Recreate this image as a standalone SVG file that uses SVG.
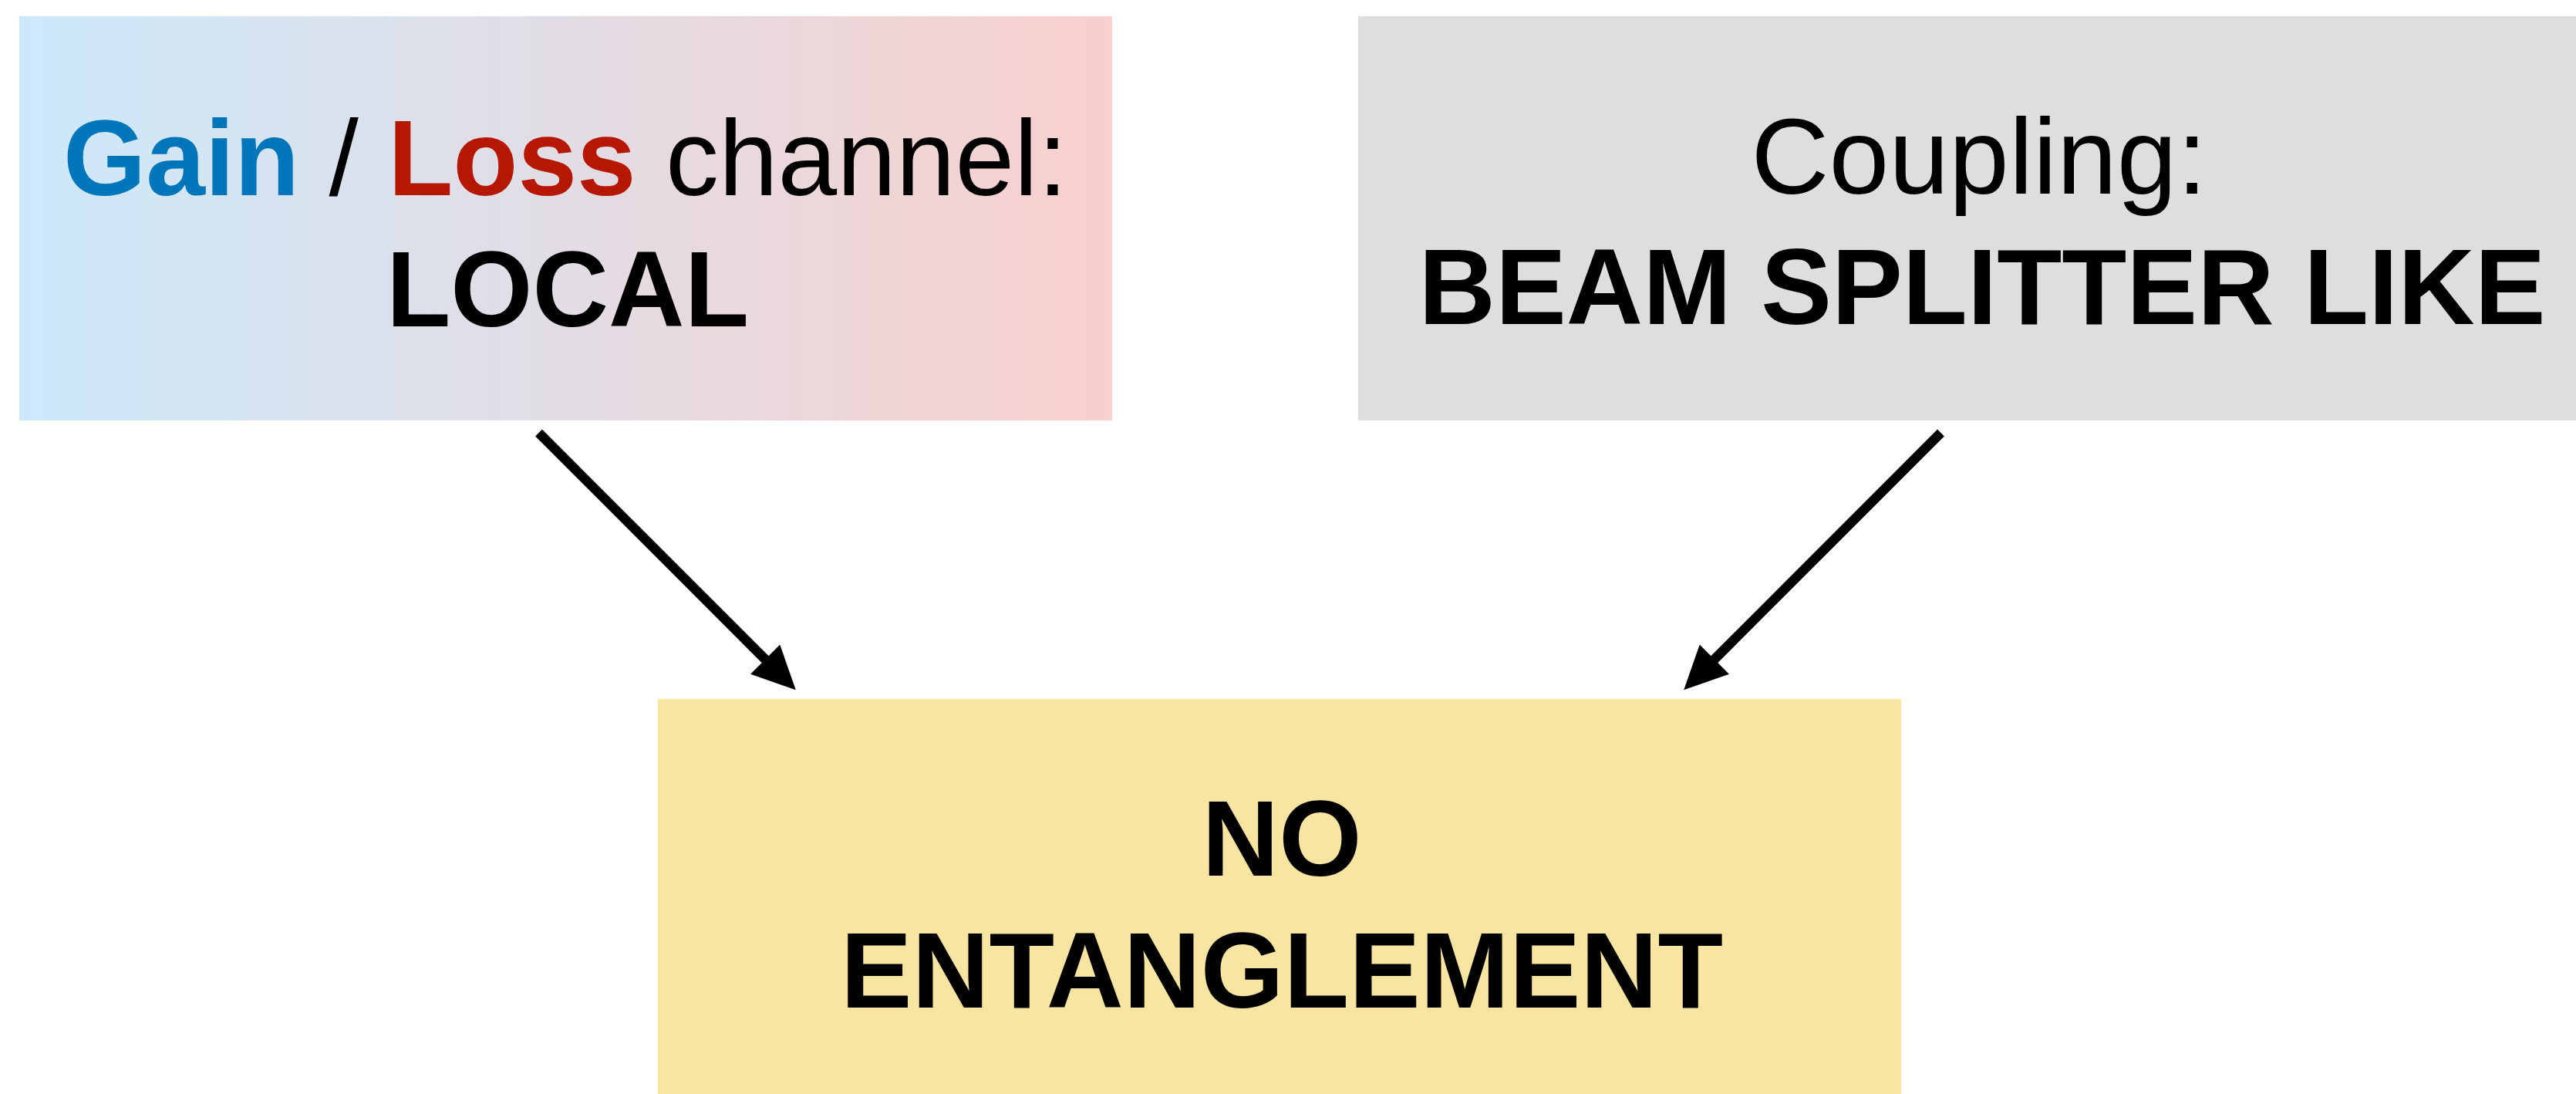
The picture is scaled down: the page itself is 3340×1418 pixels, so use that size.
<svg xmlns="http://www.w3.org/2000/svg" width="3340" height="1418" viewBox="0 0 3340 1418">
<style>
  text { font-family: "Liberation Sans", Arial, Helvetica, sans-serif; font-size: 140px; fill: #000; text-anchor: middle; }
  .b { font-weight: bold; }
  .gain { fill: #0076BA; font-weight: bold; }
  .loss { fill: #B51700; font-weight: bold; }
  .conn { stroke: #000; stroke-width: 12.5; fill: none; marker-end: url(#ah); }
</style>
<defs>
  <linearGradient id="gl" x1="0" y1="0" x2="1" y2="0">
    <stop offset="0" stop-color="#CCE9FB"/>
    <stop offset="1" stop-color="#F8D0CD"/>
  </linearGradient>
  <marker id="ah" markerUnits="userSpaceOnUse" viewBox="0 0 56 54" refX="4" refY="27" markerWidth="56" markerHeight="54" orient="auto">
    <path d="M0,0 L56,27 L0,54 Z" fill="#000"/>
  </marker>
</defs>
<rect width="3340" height="1418" fill="#fff"/>
<g id="node-gainloss">
  <rect x="25" y="21" width="1417" height="524" fill="url(#gl)"/>
  <text x="733" y="253" textLength="1302" lengthAdjust="spacingAndGlyphs"><tspan class="gain">Gain</tspan> / <tspan class="loss">Loss</tspan> channel:</text>
  <text class="b" x="736" y="423" textLength="470" lengthAdjust="spacingAndGlyphs">LOCAL</text>
</g>
<g id="node-coupling">
  <rect x="1761" y="21" width="1610" height="524" fill="#DEDEDE"/>
  <text x="2566" y="251" textLength="591" lengthAdjust="spacingAndGlyphs">Coupling:</text>
  <text class="b" x="2570" y="420" textLength="1461" lengthAdjust="spacingAndGlyphs">BEAM SPLITTER LIKE</text>
</g>
<g id="node-result">
  <rect x="853" y="906" width="1612" height="520" fill="#F9E5A2"/>
  <text class="b" x="1662" y="1135" textLength="207" lengthAdjust="spacingAndGlyphs">NO</text>
  <text class="b" x="1662" y="1306" textLength="1144" lengthAdjust="spacingAndGlyphs">ENTANGLEMENT</text>
</g>
<g id="connectors">
  <line class="conn" x1="698.5" y1="561" x2="995" y2="857.5"/>
  <line class="conn" x1="2516.5" y1="561" x2="2220" y2="857.5"/>
</g>
</svg>
